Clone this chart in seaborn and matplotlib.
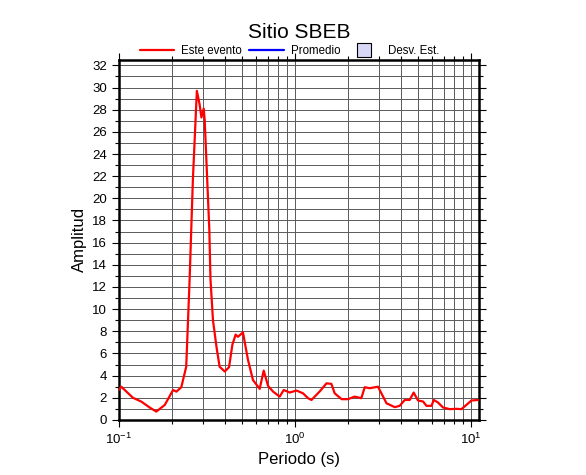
import matplotlib
matplotlib.use("Agg")
import matplotlib.pyplot as plt
from matplotlib.lines import Line2D
from matplotlib.ticker import MultipleLocator
import pandas as pd
import seaborn as sns

# Espectro del evento (periodo en s, amplitud)
periodo = [0.100, 0.103, 0.120, 0.134, 0.150, 0.163, 0.182, 0.203, 0.212, 0.226,
           0.241, 0.252, 0.263, 0.277, 0.287, 0.294, 0.303, 0.307, 0.326, 0.331,
           0.342, 0.358, 0.373, 0.399, 0.422, 0.441, 0.460, 0.474, 0.506, 0.541,
           0.577, 0.630, 0.664, 0.703, 0.750, 0.818, 0.863, 0.933, 1.019, 1.110,
           1.186, 1.24, 1.38, 1.51, 1.61, 1.68, 1.84, 2.00, 2.18, 2.38,
           2.49, 2.66, 2.96, 3.31, 3.69, 3.93, 4.20, 4.48, 4.72, 5.00,
           5.34, 5.58, 5.96, 6.14, 6.49, 6.93, 7.57, 8.26, 8.82, 9.42,
           10.05, 10.96]
amplitud = [2.7, 3.0, 2.0, 1.65, 1.1, 0.75, 1.35, 2.7, 2.55, 2.95,
            4.8, 12.7, 21.7, 29.7, 28.5, 27.3, 28.1, 27.0, 17.2, 12.7,
            9.0, 6.6, 4.8, 4.37, 4.76, 6.8, 7.7, 7.5, 7.9, 5.4,
            3.6, 2.8, 4.45, 3.07, 2.56, 2.1, 2.7, 2.47, 2.65, 2.4,
            1.96, 1.8, 2.56, 3.3, 3.25, 2.4, 1.87, 1.87, 2.1, 1.96,
            2.95, 2.86, 3.0, 1.5, 1.15, 1.27, 1.8, 1.8, 2.47, 1.75,
            1.66, 1.27, 1.27, 1.8, 1.57, 1.12, 0.97, 1.0, 0.97, 1.36,
            1.75, 1.8]

leyenda = ["Este evento", "Promedio", "Desv. Est."]

sns.set_theme(style="ticks")
plt.rcParams["font.family"] = ["Liberation Sans", "DejaVu Sans"]
plt.rcParams["text.color"] = "black"
plt.rcParams["axes.labelcolor"] = "black"

df = pd.DataFrame({"periodo": periodo, "amplitud": amplitud})

fig = plt.figure(figsize=(5.86, 4.75), dpi=100)
ax = fig.add_axes([0.203, 0.116, 0.614, 0.758])

sns.lineplot(data=df, x="periodo", y="amplitud", ax=ax, color="red",
             linewidth=1.6, estimator=None, sort=False, zorder=3)

ax.set_xscale("log")
ax.set_xlim(0.1, 11.06)
ax.set_ylim(0, 32.5)
ax.yaxis.set_major_locator(MultipleLocator(2))
ax.yaxis.set_minor_locator(MultipleLocator(1))

ax.grid(which="both", color="#5a5a5a", linewidth=0.7)
for s in ax.spines.values():
    s.set_linewidth(1.8)
    s.set_color("black")

ax.tick_params(which="both", direction="out", top=True, right=True,
               labelsize=9.5, colors="black")
ax.tick_params(which="major", length=5, width=0.8)
ax.tick_params(which="minor", length=3, width=0.8)

ax.set_xlabel("Periodo (s)", fontsize=12)
ax.set_ylabel("Amplitud", fontsize=12)
ax.set_title("Sitio SBEB", fontsize=15, pad=16)

handles = [Line2D([], [], color="red", linewidth=1.6),
           Line2D([], [], color="blue", linewidth=1.6),
           Line2D([], [], linestyle="none", marker="s", markersize=10,
                  markerfacecolor="#d8d8f6", markeredgecolor="black",
                  markeredgewidth=0.8)]
ax.legend(handles, leyenda, loc="lower center", bbox_to_anchor=(0.475, 1.008),
          ncol=3, frameon=False, fontsize=8.3, handlelength=3.0,
          columnspacing=0.6, handletextpad=0.6, borderaxespad=0,
          borderpad=0)

fig.savefig("out.png", dpi=100)
